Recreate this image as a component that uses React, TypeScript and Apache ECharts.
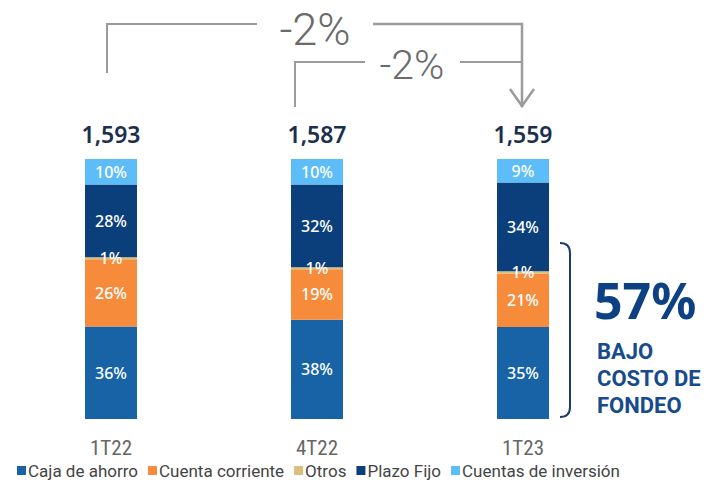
import React, { useEffect, useRef } from "react";
import * as echarts from "echarts";

const categories = ["1T22", "4T22", "1T23"];
const totals = ["1,593", "1,587", "1,559"];
const cajaAhorro = [35.6, 38.2, 35.4];
const cuentaCorriente = [25.8, 19.4, 20.6];
const otros = [0.8, 0.8, 0.8];
const plazoFijo = [28.0, 31.8, 34.2];
const cuentasInversion = [9.8, 9.8, 9.0];
const seriesNames = ["Caja de ahorro", "Cuenta corriente", "Otros", "Plazo Fijo", "Cuentas de inversión"];
const seriesColors = ["#1763a6", "#f68b3b", "#d8bf7c", "#0b3f7b", "#5cbdf8"];
const changeLabels = ["-2%", "-2%"];
const highlightValue = "57%";
const highlightLines = ["BAJO", "COSTO DE", "FONDEO"];

const labelFont = "'Noto Sans', 'Open Sans', sans-serif";
const narrowFont = "'Liberation Sans Narrow', 'Roboto Condensed', Roboto, sans-serif";

export default function App() {
  const ref = useRef<HTMLDivElement>(null);
  useEffect(() => {
    if (!ref.current) return;
    echarts.graphic.registerShape(
      "brace",
      echarts.graphic.extendPath("M0,0 Q10,0 10,10 L10,164 Q10,174 0,174", {})
    );
    const chart = echarts.init(ref.current, undefined, { renderer: "svg" });
    const dataSets = [cajaAhorro, cuentaCorriente, otros, plazoFijo, cuentasInversion];
    const series: any[] = dataSets.map((d, i) => ({
      name: seriesNames[i],
      type: "bar",
      stack: "a",
      barWidth: 52,
      data: d,
      itemStyle: { color: seriesColors[i] },
      label: {
        show: true,
        position: "inside",
        color: "#ffffff",
        fontFamily: labelFont,
        fontSize: 16,
        fontWeight: 500,
        formatter: (p: any) => Math.round(p.value) + "%",
      },
    }));
    series.push({
      name: "total",
      type: "bar",
      stack: "a",
      barWidth: 52,
      data: [0, 0, 0],
      itemStyle: { color: "transparent" },
      label: {
        show: true,
        position: "top",
        distance: 14,
        color: "#1b2f4e",
        fontFamily: labelFont,
        fontSize: 23,
        fontWeight: 600,
        formatter: (p: any) => totals[p.dataIndex],
      },
    });
    const gray = "#9b9b9b";
    const lineTexts = highlightLines.map((t, i) => ({
      type: "text",
      x: 597,
      y: 351 + i * 27,
      style: {
        text: t, fill: "#184b8c", fontFamily: "Roboto, sans-serif", fontSize: 22, fontWeight: 700,
        align: "left", verticalAlign: "middle", textAlign: "left", textVerticalAlign: "middle",
      },
    }));
    chart.setOption({
      animation: false,
      grid: { left: 8, right: 93, top: 159, bottom: 61 },
      legend: {
        data: seriesNames,
        left: 12,
        top: 457,
        icon: "rect",
        itemWidth: 9,
        itemHeight: 9,
        itemGap: 10,
        textStyle: { fontFamily: "Roboto, sans-serif", fontSize: 17, color: "#444444", padding: [0, 0, 0, -3] },
      },
      xAxis: {
        type: "category",
        data: categories,
        axisLine: { show: false },
        axisTick: { show: false },
        axisLabel: { margin: 18, fontFamily: narrowFont, fontSize: 21, color: "#666666" },
      },
      yAxis: { type: "value", min: 0, max: 100, show: false, splitLine: { show: false } },
      series,
      graphic: [
        { type: "polyline", shape: { points: [[107, 73], [107, 24], [257, 24]] }, style: { stroke: gray, lineWidth: 2, fill: null } },
        { type: "polyline", shape: { points: [[373, 24], [522, 24], [522, 107]] }, style: { stroke: gray, lineWidth: 2.5, fill: null } },
        { type: "polyline", shape: { points: [[295, 107], [295, 62], [365, 62]] }, style: { stroke: gray, lineWidth: 2, fill: null } },
        { type: "polyline", shape: { points: [[460, 62], [522, 62]] }, style: { stroke: gray, lineWidth: 2, fill: null } },
        { type: "polyline", shape: { points: [[510, 89], [522, 106], [534, 89]] }, style: { stroke: gray, lineWidth: 2.5, fill: null } },
        {
          type: "text", x: 315, y: 29,
          style: { text: changeLabels[0], fill: "#6b6b6b", fontFamily: "Roboto, sans-serif", fontSize: 45, fontWeight: 300, align: "center", verticalAlign: "middle", textAlign: "center", textVerticalAlign: "middle" },
        },
        {
          type: "text", x: 412, y: 65,
          style: { text: changeLabels[1], fill: "#6b6b6b", fontFamily: "Roboto, sans-serif", fontSize: 41, fontWeight: 300, align: "center", verticalAlign: "middle", textAlign: "center", textVerticalAlign: "middle" },
        },
        { type: "brace", x: 560, y: 243, style: { stroke: "#1c3c6e", lineWidth: 2, fill: null } },
        {
          type: "text", x: 594, y: 300,
          style: { text: highlightValue, fill: "#0d4183", fontFamily: labelFont, fontSize: 50, fontWeight: 700, align: "left", verticalAlign: "middle", textAlign: "left", textVerticalAlign: "middle" },
        },
        ...lineTexts,
      ],
    });
    return () => chart.dispose();
  }, []);
  return <div ref={ref} style={{ position: "absolute", left: 0, top: 0, width: 719, height: 480 }} />;
}
